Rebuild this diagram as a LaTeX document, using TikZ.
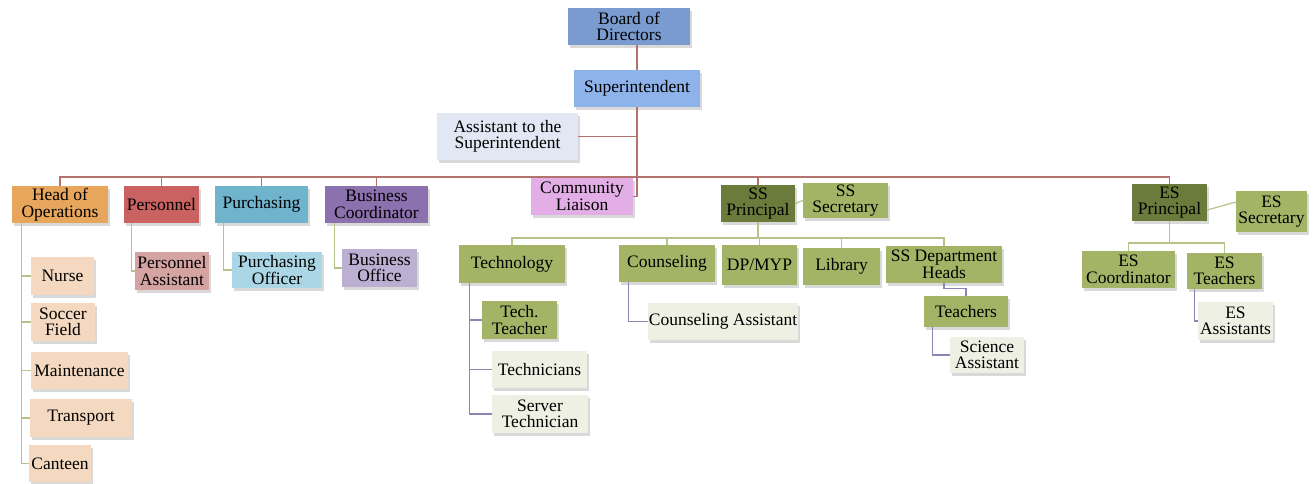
\documentclass[tikz,border=0pt]{standalone}
\usepackage{fontspec}
\setmainfont{Liberation Serif}
\usetikzlibrary{shadows}

\definecolor{boardblue}{HTML}{7A9BCF}
\definecolor{supblue}{HTML}{8DB3EA}
\definecolor{asstblue}{HTML}{E1E8F3}
\definecolor{opsorange}{HTML}{E8A65C}
\definecolor{persred}{HTML}{C96261}
\definecolor{purchblue}{HTML}{6FB4CC}
\definecolor{buspurple}{HTML}{8B71AE}
\definecolor{liaisonpink}{HTML}{E3AEE6}
\definecolor{prinolive}{HTML}{6B7B3B}
\definecolor{olive}{HTML}{A3B466}
\definecolor{paleolive}{HTML}{EEF0E4}
\definecolor{peach}{HTML}{F4D9C0}
\definecolor{perspale}{HTML}{D5A4A2}
\definecolor{purchpale}{HTML}{AAD6E5}
\definecolor{buspale}{HTML}{BDAFD1}
\definecolor{busred}{HTML}{B3736C}
\definecolor{greenline}{HTML}{B6C28A}
\definecolor{purpleline}{HTML}{8A86B4}

\begin{document}
\begin{tikzpicture}[x=1pt,y=-1pt,
  box/.style={fill=#1,align=center,inner sep=0pt,
    font=\fontsize{17.5}{16.5}\selectfont,
    drop shadow={shadow xshift=1.5pt,shadow yshift=-2.5pt,opacity=.3}},
  sz/.style 2 args={minimum width=#1pt,minimum height=#2pt},
  busline/.style={draw=busred,line width=1.2pt},
  ssline/.style={draw=greenline,line width=1.2pt},
  subline/.style={draw=purpleline,line width=1.2pt}]
\useasboundingbox (0,0) rectangle (1314,483);

% top of the chart
\node[box=boardblue,sz={122}{37}] (board) at (629,26.5) {Board of\\Directors};
\node[box=supblue,sz={126}{37}] (sup) at (637,88.5) {Superintendent};
\node[box=asstblue,sz={141}{47}] (asst) at (507.5,136.5) {Assistant to the\\Superintendent};

% first row
\node[box=opsorange,sz={96}{37}] (headops) at (60,204.5) {Head of\\Operations};
\node[box=persred,sz={75}{37}] (personnel) at (161.5,204.5) {Personnel};
\node[box=purchblue,sz={93}{37}] (purch) at (261.5,204.5) {Purchasing};
\node[box=buspurple,sz={103}{37}] (buscoord) at (376.5,204.5) {Business\\Coordinator};
\node[box=liaisonpink,sz={102}{37}] (liaison) at (582,196.5) {Community\\Liaison};
\node[box=prinolive,sz={74}{37}] (ssprin) at (758,203.5) {SS\\Principal};
\node[box=olive,sz={85}{35}] (sssec) at (845.5,200.5) {SS\\Secretary};
\node[box=prinolive,sz={75}{37}] (esprin) at (1169.5,202.5) {ES\\Principal};
\node[box=olive,sz={71}{41}] (essec) at (1271.5,211.5) {ES\\Secretary};

% operations side
\node[box=perspale,sz={74}{38}] (persasst) at (172,271) {Personnel\\Assistant};
\node[box=purchpale,sz={90}{36}] (purchoff) at (277,270) {Purchasing\\Officer};
\node[box=buspale,sz={75}{38}] (busoffice) at (379.5,268) {Business\\Office};
\node[box=peach,sz={63}{38}] (nurse) at (62.5,276) {Nurse};
\node[box=peach,sz={64}{38}] (soccer) at (63,322) {Soccer\\Field};
\node[box=peach,sz={97}{37}] (maint) at (79.5,370.5) {Maintenance};
\node[box=peach,sz={102}{38}] (transport) at (81,418) {Transport};
\node[box=peach,sz={62}{37}] (canteen) at (60,463.5) {Canteen};

% secondary school
\node[box=olive,sz={106}{38}] (tech) at (512,264) {Technology};
\node[box=olive,sz={96}{37}] (couns) at (667,263.5) {Counseling};
\node[box=olive,sz={75}{40}] (dpmyp) at (759.5,265) {DP/MYP};
\node[box=olive,sz={77}{37}] (library) at (841.5,266.5) {Library};
\node[box=olive,sz={116}{37}] (ssdept) at (944,264.5) {SS Department\\Heads};
\node[box=olive,sz={84}{31}] (teachers) at (966,311.5) {Teachers};
\node[box=paleolive,sz={74}{36}] (sciasst) at (987,355) {Science\\Assistant};
\node[box=olive,sz={75}{38}] (techteacher) at (519.5,320) {Tech.\\Teacher};
\node[box=paleolive,sz={95}{37}] (technicians) at (539.5,369.5) {Technicians};
\node[box=paleolive,sz={96}{38}] (servertech) at (540,414) {Server\\Technician};
\node[box=paleolive,sz={150}{37}] (counsasst) at (723,321.5) {Counseling Assistant};

% elementary school
\node[box=olive,sz={93}{37}] (escoord) at (1128.5,269.5) {ES\\Coordinator};
\node[box=olive,sz={75}{36}] (esteach) at (1224.5,271) {ES\\Teachers};
\node[box=paleolive,sz={75}{38}] (esasst) at (1235.5,321) {ES\\Assistants};

% main lines
\coordinate (bus) at (637,177);
\draw[busline] (sup.north) -- (sup.north |- board.south);
\draw[busline] (asst.east) -- (asst.east -| sup.south);
\draw[busline] (sup.south) |- (liaison.east);
\draw[busline] (headops.north) |- (bus) -| (esprin.north);
\foreach \n in {personnel,purch,buscoord,ssprin}
  \draw[busline] (\n.north) -- (\n.north |- bus);

% operations lines
\foreach \n in {nurse,soccer,maint,transport,canteen}
  \draw[ssline] ([xshift=10pt]headops.south west) |- (\n.west);
\draw[ssline] ([xshift=8pt]personnel.south west) |- (persasst.west);
\draw[ssline] ([xshift=9pt]purch.south west) |- (purchoff.west);
\draw[ssline] ([xshift=10pt]buscoord.south west) |- (busoffice.west);

% secondary school lines
\coordinate (ssbus) at (758,238);
\draw[ssline] (ssprin.east) -- (sssec.west);
\draw[ssline] (ssprin.south) -- (ssbus);
\draw[ssline] (tech.north) |- (ssbus) -| (ssdept.north);
\foreach \n in {couns,dpmyp,library}
  \draw[ssline] (\n.north) -- (\n.north |- ssbus);
\foreach \n in {techteacher,technicians,servertech}
  \draw[subline] ([xshift=11pt]tech.south west) |- (\n.west);
\draw[subline] ([xshift=10pt]couns.south west) |- (counsasst.west);
\draw[subline] (ssdept.south) -- ++(0,5) -| (teachers.north);
\draw[subline] ([xshift=9pt]teachers.south west) |- (sciasst.west);

% elementary school lines
\coordinate (esbus) at (1169.5,243);
\draw[ssline] ([yshift=-7.5pt]esprin.east) -- ([yshift=9.5pt]essec.west);
\draw[ssline] (esprin.south) -- (esbus);
\draw[ssline] (escoord.north) |- (esbus) -| (esteach.north);
\draw[subline] ([xshift=8pt]esteach.south west) |- (esasst.west);
\end{tikzpicture}
\end{document}
